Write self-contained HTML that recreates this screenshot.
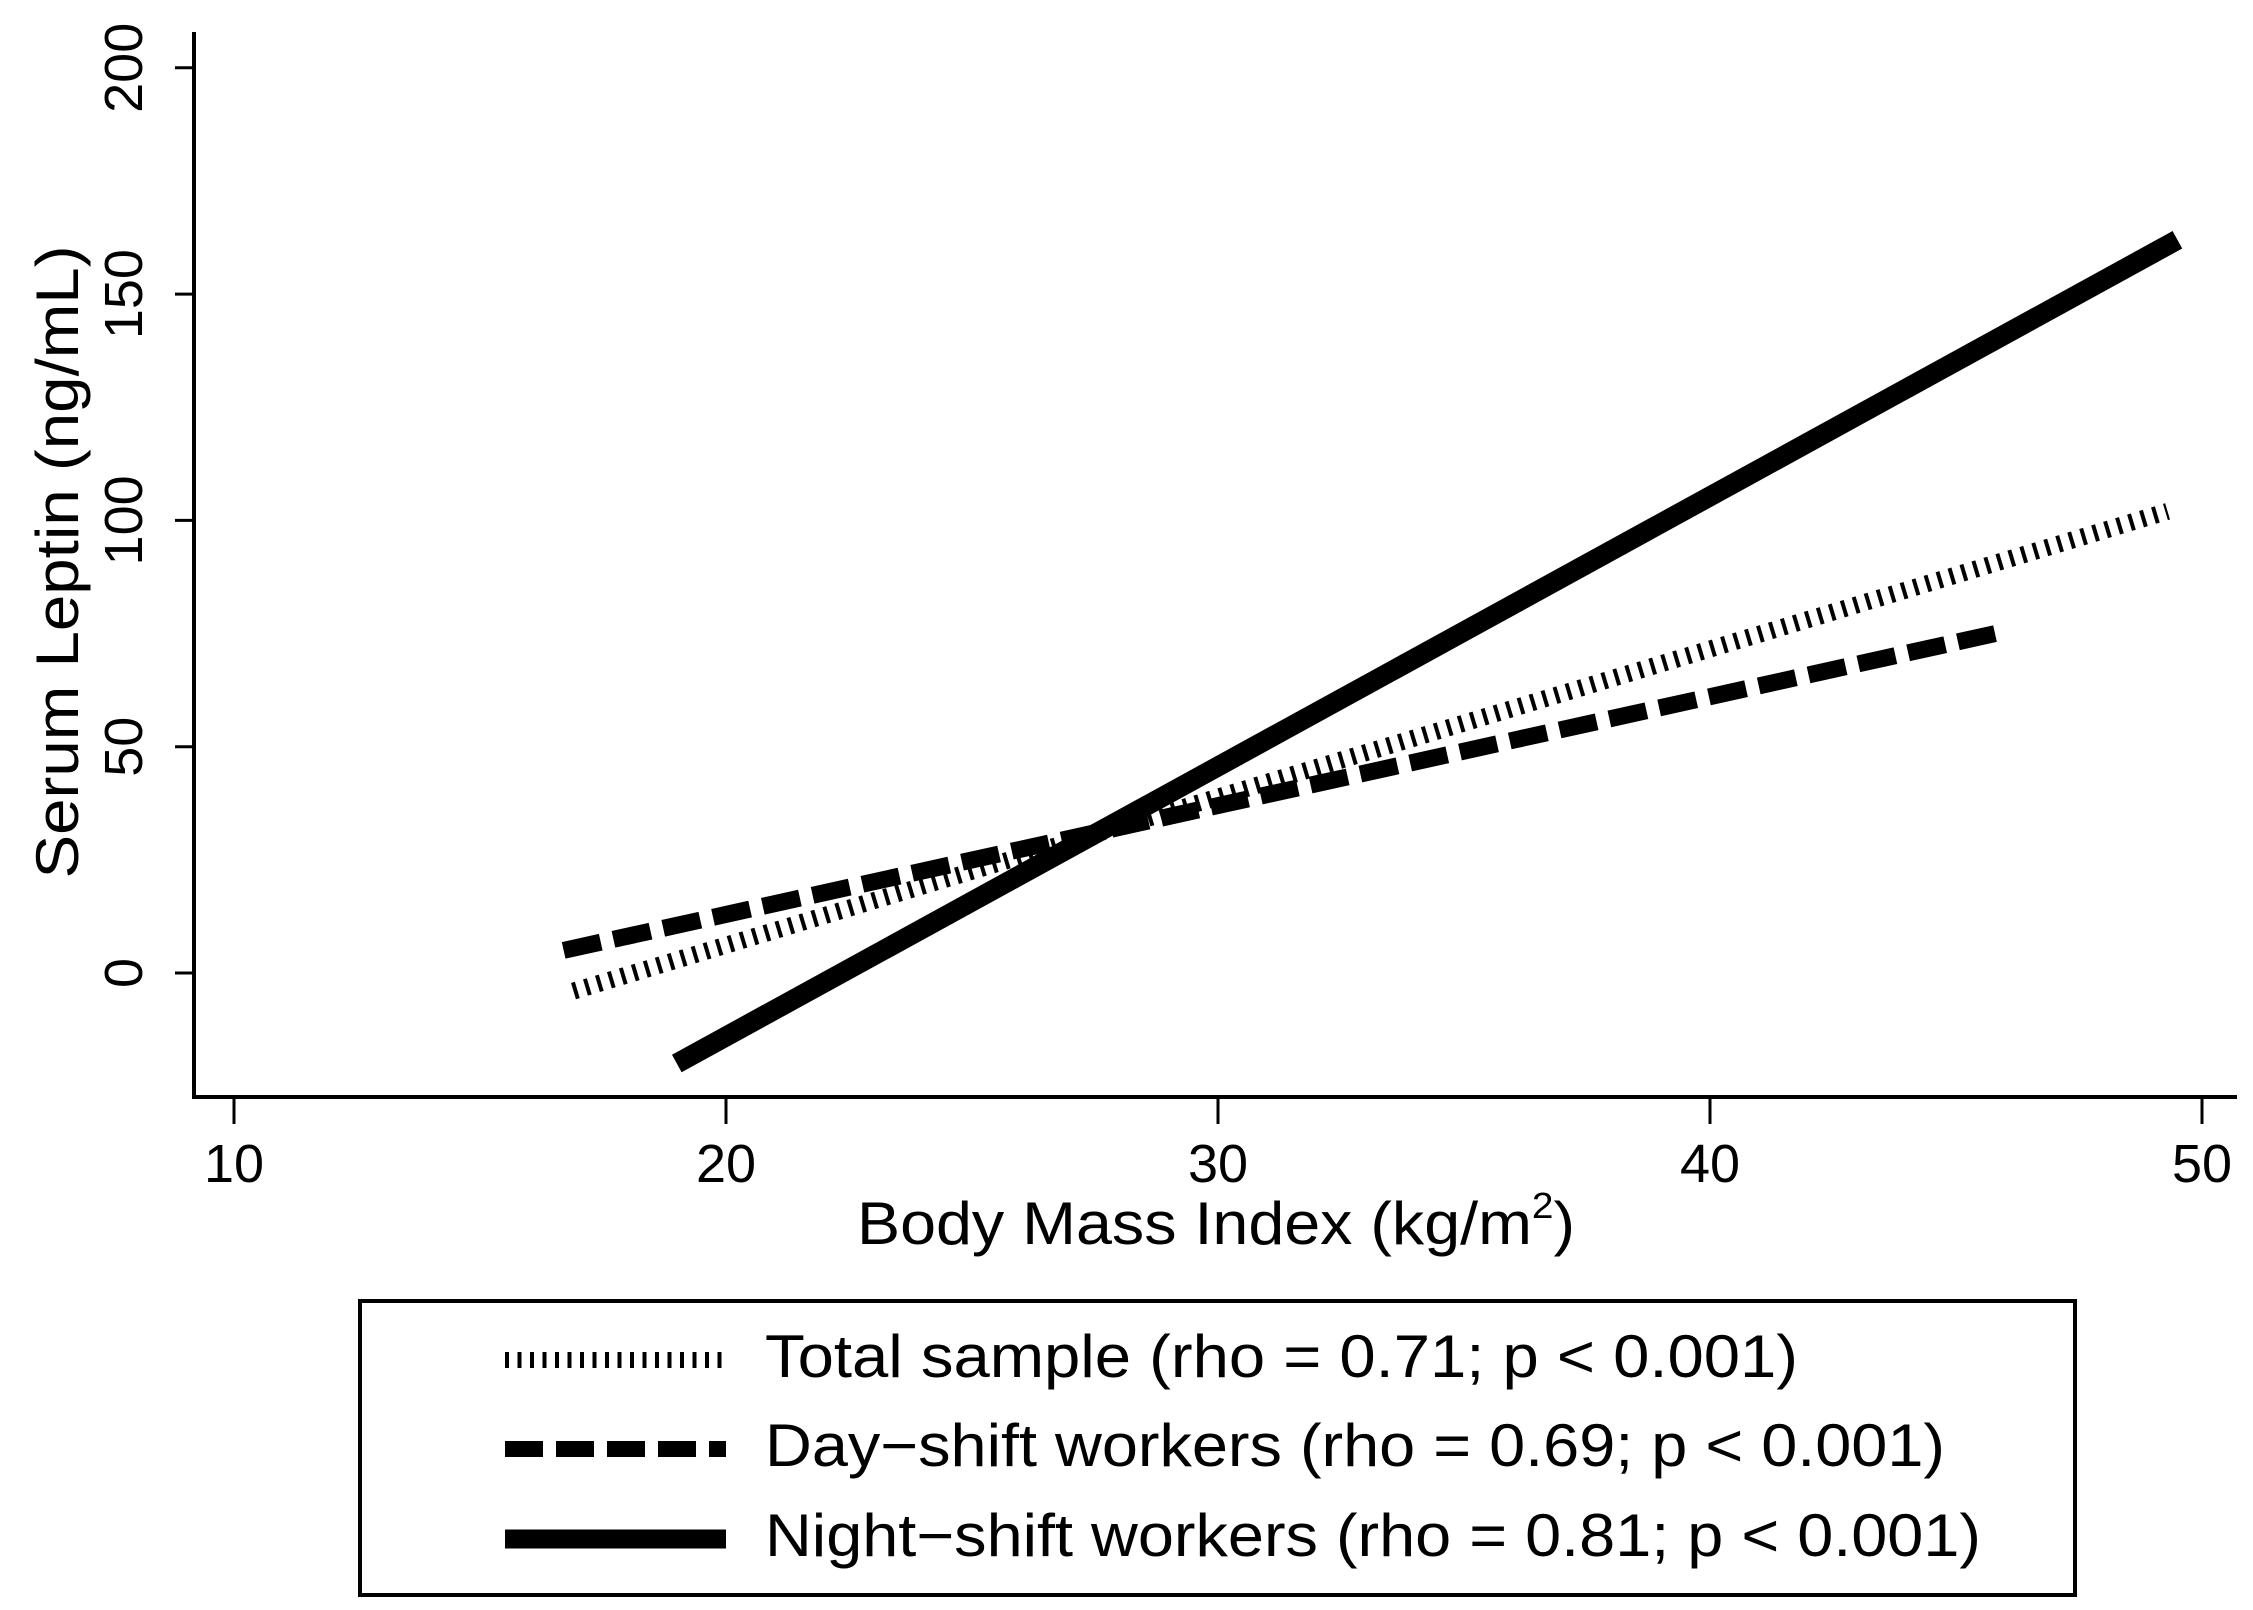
<!DOCTYPE html>
<html><head><meta charset="utf-8"><style>
html,body{margin:0;padding:0;background:#fff;}
svg{display:block;font-family:"Liberation Sans",sans-serif;}
</style></head><body>
<svg id="chart" width="2253" height="1610" viewBox="0 0 2253 1610" xmlns="http://www.w3.org/2000/svg">
<rect x="0" y="0" width="2253" height="1610" fill="#fff"/>
<g id="axes"></g>
<g id="series"></g>
<text x="1216" y="1244" font-size="60" text-anchor="middle" textLength="718" lengthAdjust="spacingAndGlyphs">Body Mass Index (kg/m<tspan font-size="36" dy="-26">2</tspan><tspan dy="26">)</tspan></text>
<text transform="translate(78,562) rotate(-90)" font-size="60" text-anchor="middle" textLength="633" lengthAdjust="spacingAndGlyphs">Serum Leptin (ng/mL)</text>
<g>
<rect x="360" y="1301" width="1715" height="294" fill="none" stroke="#000" stroke-width="4"/>
<line x1="505" y1="1360" x2="726" y2="1360" stroke="#000" stroke-width="16" stroke-dasharray="4,8.5"/>
<line x1="505" y1="1449" x2="726" y2="1449" stroke="#000" stroke-width="16" stroke-dasharray="38,13"/>
<line x1="505" y1="1539" x2="726" y2="1539" stroke="#000" stroke-width="19"/>
<text x="765" y="1377" font-size="60" textLength="1033" lengthAdjust="spacingAndGlyphs">Total sample (rho = 0.71; p &lt; 0.001)</text>
<text x="765" y="1466" font-size="60" textLength="1180" lengthAdjust="spacingAndGlyphs">Day−shift workers (rho = 0.69; p &lt; 0.001)</text>
<text x="765" y="1556" font-size="60" textLength="1216" lengthAdjust="spacingAndGlyphs">Night−shift workers (rho = 0.81; p &lt; 0.001)</text>
</g>
</svg>
<script>
const xTicks = [10, 20, 30, 40, 50];
const yTicks = [0, 50, 100, 150, 200];
const seriesNames = ["total", "day", "night"];
const totalX = [16.9, 49.3];
const totalY = [-4, 102];
const dayX = [16.7, 45.8];
const dayY = [5, 75];
const nightX = [19, 49.5];
const nightY = [-20, 162];

const NS = "http://www.w3.org/2000/svg";
function xs(v){ return 234 + (v - 10) * 49.2; }
function ys(v){ return 973 - v * 4.526; }
function mk(tag, attrs, parent){
  const e = document.createElementNS(NS, tag);
  for (const k in attrs) e.setAttribute(k, attrs[k]);
  parent.appendChild(e);
  return e;
}
const axes = document.getElementById('axes');
const yAxis = mk('line', {x1:194, y1:32, x2:194, y2:1099, stroke:'#000', 'stroke-width':4}, axes);


const xAxis = mk('line', {x1:192, y1:1097, x2:2237, y2:1097, stroke:'#000', 'stroke-width':4}, axes);


xTicks.forEach(v => {
  const t = mk('line', {x1:xs(v), y1:1097, x2:xs(v), y2:1124, stroke:'#000', 'stroke-width':3}, axes);
  
  
  const l = mk('text', {x:xs(v), y:1182, 'font-size':54, 'text-anchor':'middle'}, axes);
  
  
  l.textContent = v;
});
yTicks.forEach(v => {
  const t = mk('line', {x1:175, y1:ys(v), x2:194, y2:ys(v), stroke:'#000', 'stroke-width':3}, axes);
  
  
  const l = mk('text', {transform:'translate(142,' + ys(v) + ') rotate(-90)', 'font-size':54, 'text-anchor':'middle'}, axes);
  
  
  l.textContent = v;
});
const series = document.getElementById('series');
const styles = {
  total: {xsArr: totalX, ysArr: totalY, w: 17, dash: '4,8.5'},
  day: {xsArr: dayX, ysArr: dayY, w: 17, dash: '38,13'},
  night: {xsArr: nightX, ysArr: nightY, w: 20, dash: ''}
};
seriesNames.forEach(n => {
  const s = styles[n];
  const pts = s.xsArr.map((x, i) => xs(x) + ',' + ys(s.ysArr[i])).join(' ');
  const attrs = {points: pts, fill:'none', stroke:'#000', 'stroke-width': s.w};
  if (s.dash) attrs['stroke-dasharray'] = s.dash;
  const p = mk('polyline', attrs, series);
  
  
});
</script>
</body></html>
